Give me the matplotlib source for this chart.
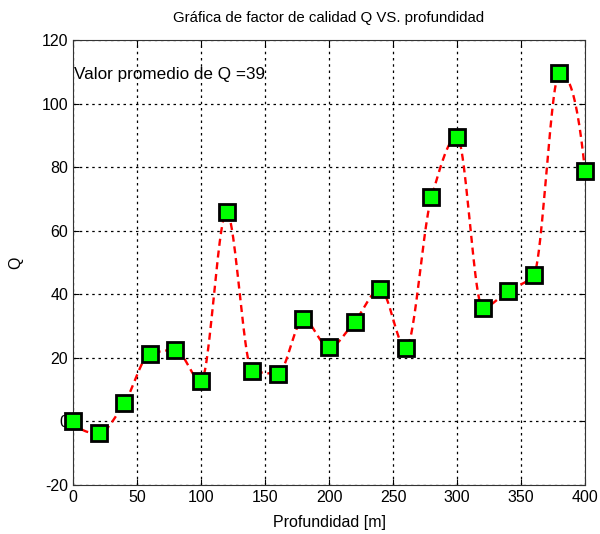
import numpy as np
import matplotlib
matplotlib.use("Agg")
import matplotlib.pyplot as plt

# depth (m) and quality factor Q
profundidad = [0, 20, 40, 60, 80, 100, 120, 140, 160, 180, 200,
               220, 240, 260, 280, 300, 320, 340, 360, 380, 400]
q_valores = [0, -3.7, 5.7, 21.2, 22.5, 12.7, 65.9, 15.9, 15.0, 32.1, 23.3,
             31.4, 41.6, 23.0, 70.5, 89.6, 35.8, 41.1, 46.1, 109.5, 78.8]
q_promedio = 39


def pchip(x, y, xs):
    # shape-preserving piecewise cubic through (x, y), evaluated at xs
    x = np.asarray(x, float)
    y = np.asarray(y, float)
    h = np.diff(x)
    delta = np.diff(y) / h
    n = len(x)
    d = np.zeros(n)
    for k in range(1, n - 1):
        if delta[k - 1] * delta[k] > 0:
            w1 = 2 * h[k] + h[k - 1]
            w2 = h[k] + 2 * h[k - 1]
            d[k] = (w1 + w2) / (w1 / delta[k - 1] + w2 / delta[k])
    # end slopes
    for k, (h0, h1, d0, d1) in ((0, (h[0], h[1], delta[0], delta[1])),
                                (n - 1, (h[-1], h[-2], delta[-1], delta[-2]))):
        s = ((2 * h0 + h1) * d0 - h0 * d1) / (h0 + h1)
        if np.sign(s) != np.sign(d0):
            s = 0
        elif np.sign(d0) != np.sign(d1) and abs(s) > abs(3 * d0):
            s = 3 * d0
        d[k] = s
    idx = np.clip(np.searchsorted(x, xs) - 1, 0, n - 2)
    t = (xs - x[idx]) / h[idx]
    h00 = 2 * t ** 3 - 3 * t ** 2 + 1
    h10 = t ** 3 - 2 * t ** 2 + t
    h01 = -2 * t ** 3 + 3 * t ** 2
    h11 = t ** 3 - t ** 2
    return (h00 * y[idx] + h10 * h[idx] * d[idx]
            + h01 * y[idx + 1] + h11 * h[idx] * d[idx + 1])


plt.rcParams['font.family'] = ['Liberation Sans', 'DejaVu Sans']
plt.rcParams['axes.unicode_minus'] = False

fig = plt.figure(figsize=(6, 5.34), dpi=100)
ax = fig.add_axes([0.1217, 0.0918, 0.8533, 0.8333])

xs = np.linspace(profundidad[0], profundidad[-1], 800)
ax.plot(xs, pchip(profundidad, q_valores, xs), '--', color='red', lw=1.7,
        dashes=(3, 2), zorder=2)
ax.plot(profundidad, q_valores, 's', ms=11, mfc=(0, 1, 0), mec='black', mew=2,
        zorder=3, clip_on=False)

ax.set_xlim(0, 400)
ax.set_ylim(-20, 120)
ax.set_xticks(np.arange(0, 401, 50))
ax.set_yticks(np.arange(-20, 121, 20))
ax.grid(True, color='black', linestyle=(0, (2, 3)), lw=0.9)
ax.tick_params(direction='in', top=True, right=True, labelsize=11.5, length=4)
for s in ax.spines.values():
    s.set_color('#333333')

ax.set_title('Gráfica de factor de calidad Q VS. profundidad', fontsize=10.8, pad=13)
ax.set_xlabel('Profundidad [m]', fontsize=11.5, labelpad=7)
ax.set_ylabel('Q', fontsize=11.5, labelpad=13)
ax.text(1, 109, 'Valor promedio de Q =%d' % q_promedio, fontsize=12.3, va='center')

fig.savefig('out.png', dpi=100)
